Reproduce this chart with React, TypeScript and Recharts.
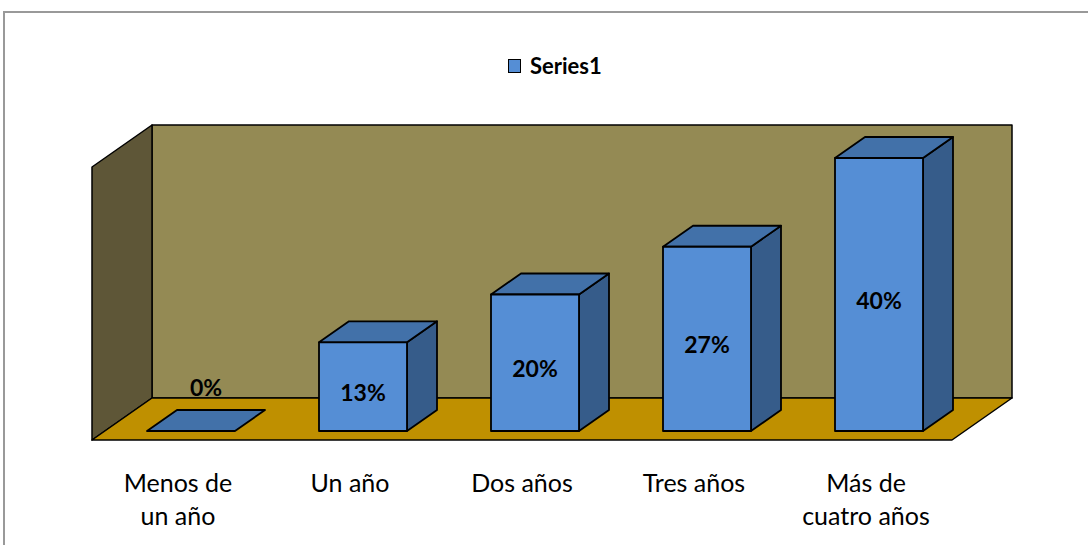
import { Bar, BarChart, LabelList, Legend, ReferenceArea, XAxis, YAxis } from 'recharts';

const categories = ['Menos de\nun año', 'Un año', 'Dos años', 'Tres años', 'Más de\ncuatro años'];
const values = [0, 13, 20, 27, 40];
const seriesName = 'Series1';

const FRONT = '#558ED5';
const TOP = '#4271A9';
const SIDE = '#365C8A';
const BACK_WALL = '#948A54';
const SIDE_WALL = '#5E5637';
const FLOOR = '#BF9000';
const FONT = 'Lato, "Open Sans", sans-serif';

// depth of the bars and of the whole box, as screen offsets
const BAR_DX = 30;
const BAR_DY = -21;
const FRONT_DX = -13;
const FRONT_DY = 9;
const BACK_DX = 47;
const BACK_DY = -33;

const rows = categories.map((name, i) => ({ name, value: values[i] }));

const pts = (p: number[][]) => p.map((q) => q.join(',')).join(' ');

function Walls(props: any) {
  const { x, y, width, height } = props;
  const L = x;
  const R = x + width;
  const T = y;
  const B = y + height;
  return (
    <g stroke="#000" strokeWidth={1.5} strokeLinejoin="round">
      <polygon
        fill={BACK_WALL}
        points={pts([[L + BACK_DX, T + BACK_DY], [R + BACK_DX, T + BACK_DY], [R + BACK_DX, B + BACK_DY], [L + BACK_DX, B + BACK_DY]])}
      />
      <polygon
        fill={SIDE_WALL}
        points={pts([[L + FRONT_DX, T + FRONT_DY], [L + BACK_DX, T + BACK_DY], [L + BACK_DX, B + BACK_DY], [L + FRONT_DX, B + FRONT_DY]])}
      />
      <polygon
        fill={FLOOR}
        points={pts([[L + FRONT_DX, B + FRONT_DY], [R + FRONT_DX, B + FRONT_DY], [R + BACK_DX, B + BACK_DY], [L + BACK_DX, B + BACK_DY]])}
      />
    </g>
  );
}

function Box(props: any) {
  const { x, y, width: w, height: h } = props;
  return (
    <g stroke="#000" strokeWidth={1.8} strokeLinejoin="round">
      {h > 0 && (
        <polygon
          fill={SIDE}
          points={pts([[x + w, y], [x + w + BAR_DX, y + BAR_DY], [x + w + BAR_DX, y + h + BAR_DY], [x + w, y + h]])}
        />
      )}
      <polygon
        fill={TOP}
        points={pts([[x, y], [x + BAR_DX, y + BAR_DY], [x + w + BAR_DX, y + BAR_DY], [x + w, y]])}
      />
      {h > 0 && <rect x={x} y={y} width={w} height={h} fill={FRONT} />}
    </g>
  );
}

function ValueLabel(props: any) {
  const { x, y, width, height, value } = props;
  const flat = !height || height < 1;
  const cx = flat ? x + width / 2 + BAR_DX / 2 : x + width / 2;
  const cy = flat ? y + BAR_DY - 23 : y + height / 2 + 5;
  return (
    <text
      x={cx}
      y={cy}
      textAnchor="middle"
      dominantBaseline="central"
      fontFamily={FONT}
      fontWeight={700}
      fontSize={23}
      fill="#000"
    >
      {`${value}%`}
    </text>
  );
}

function CategoryTick(props: any) {
  const { x, y, payload } = props;
  const lines = String(payload.value).split('\n');
  return (
    <text x={x + FRONT_DX} y={y} textAnchor="middle" fontFamily={FONT} fontSize={25} fill="#000">
      {lines.map((t, i) => (
        <tspan key={i} x={x + FRONT_DX} y={y + 61 + i * 33}>
          {t}
        </tspan>
      ))}
    </text>
  );
}

function LegendBox() {
  return (
    <div style={{ display: 'flex', alignItems: 'center', fontFamily: FONT }}>
      <span
        style={{
          width: 11,
          height: 12,
          background: FRONT,
          border: '1.5px solid #000',
          display: 'inline-block',
        }}
      />
      <span style={{ marginLeft: 9, fontSize: 22, fontWeight: 700, color: '#000' }}>{seriesName}</span>
    </div>
  );
}

export default function App() {
  return (
    <div style={{ position: 'absolute', left: 0, top: 0, width: 1088, height: 545, background: '#fff', overflow: 'hidden' }}>
      <div
        style={{
          position: 'absolute',
          left: 3,
          top: 11,
          width: 1200,
          height: 700,
          borderTop: '2px solid #999',
          borderLeft: '2px solid #999',
        }}
      />
      <BarChart
        width={1088}
        height={545}
        data={rows}
        margin={{ top: 158, right: 123, bottom: 84, left: 105 }}
      >
        <XAxis
          dataKey="name"
          axisLine={false}
          tickLine={false}
          tickSize={0}
          tickMargin={0}
          height={30}
          interval={0}
          tick={<CategoryTick />}
        />
        <YAxis hide domain={[0, 40]} />
        <ReferenceArea y1={0} y2={40} ifOverflow="visible" shape={<Walls />} />
        <Legend
          layout="horizontal"
          verticalAlign="middle"
          content={<LegendBox />}
          wrapperStyle={{ top: 52, left: 508, width: 200 }}
        />
        <Bar dataKey="value" name={seriesName} barSize={88} shape={<Box />} isAnimationActive={false}>
          <LabelList dataKey="value" content={<ValueLabel />} />
        </Bar>
      </BarChart>
    </div>
  );
}
